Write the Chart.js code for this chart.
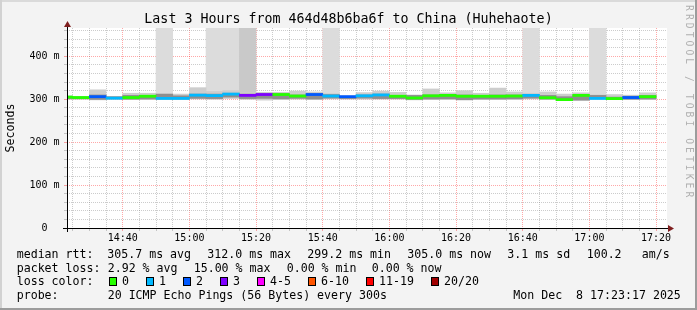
<!DOCTYPE html>
<html>
<head>
<meta charset="utf-8">
<title>Last 3 Hours from 464d48b6ba6f to China (Huhehaote)</title>
<script src="https://cdn.jsdelivr.net/npm/chart.js@4.4.1/dist/chart.umd.min.js"></script>
<style>
  html, body { margin: 0; padding: 0; background: #f3f3f3; }
  #graph { position: relative; width: 697px; height: 310px; overflow: hidden; background: #f3f3f3;
           font-family: 'DejaVu Sans Mono', monospace; color: #000; }
  #graph canvas { position: absolute; left: 0; top: 0; }
  #title { position: absolute; left: 0; top: 10.6px; width: 697px; text-align: center;
           font-size: 13.3px; line-height: 16px; white-space: pre; }
  #mark { position: absolute; left: 682px; top: 5px; width: 14px; line-height: 14px; font-size: 9.6px;
          letter-spacing: 3.1px; color: #b0b0b0; writing-mode: vertical-rl; white-space: pre; }
  .txt { position: absolute; white-space: pre; font-size: 11.6px; line-height: 14px; }
  .box { position: absolute; width: 8px; height: 9px; box-sizing: border-box; border: 1px solid #000; }
  .edge { position: absolute; }
</style>
</head>
<body>
<div id="graph">
  <canvas id="smoke" width="697" height="310"></canvas>
  <div id="title">Last 3 Hours from 464d48b6ba6f to China (Huhehaote)</div>
  <div id="mark">RRDTOOL / TOBI OETIKER</div>
  <div id="legend"></div>
  <div class="edge" style="left:0;top:0;width:697px;height:2px;background:#dadada"></div>
  <div class="edge" style="left:0;top:0;width:2px;height:310px;background:#d2d2d2"></div>
  <div class="edge" style="left:695px;top:0;width:2px;height:310px;background:#9c9c9c"></div>
  <div class="edge" style="left:0;top:308px;width:697px;height:2px;background:#9c9c9c"></div>
</div>
<script>
// 5 minute bins, start time of each bin
const BIN_TIMES = ['14:20','14:25','14:30','14:35','14:40','14:45','14:50','14:55',
  '15:00','15:05','15:10','15:15','15:20','15:25','15:30','15:35','15:40','15:45','15:50','15:55',
  '16:00','16:05','16:10','16:15','16:20','16:25','16:30','16:35','16:40','16:45','16:50','16:55',
  '17:00','17:05','17:10','17:15'];

// median rtt per bin (ms)
const MEDIAN = [305,304,306,302.5,304,307,302,302,309.5,308.5,312,309,311,311,307.5,311,307.5,306,
  308,310,307,303,308,309,307,307,307,307.5,309,303.5,299.2,309,302,301.5,304,306];
// lost pings class per bin (index into LOSS_COLORS)
const LOSS_IDX = [0,0,2,1,0,0,1,1,1,1,1,3,3,0,0,2,1,2,1,1,0,0,0,0,0,0,0,0,1,0,0,0,1,0,2,0];
// smoke (spread of the 20 pings)
const SMOKE_HI = [308,306.5,322,306,314,314,312,312,327,318,320,316,316,316,319,317,313,308,315.5,319,
  316,310,324,315,320,314,326,317,314,317,312,315,310,311,309.5,315];
const SMOKE_LO = [300,300,298.5,300,299,299,299,299,300.5,300,302,300,298,299,300,299,301,300,300,300,
  300,298.5,299,299,298,299,299,299,301,299,297,297,300,299,299,299];
const CORE_HI = [306,305,310,306,309,309,312,308,312,312,314,312,313,313,310,313,311,307,310,312,
  309,309,310,311,310,309,310,310,311,309,306,310,309,305,307,309];
const CORE_LO = [301,301,299.5,301,300,300.5,300.5,300.5,302,301.5,305,301.5,302,301,302,300.5,302.5,301.5,
  302.5,301.5,301.5,299.5,300.5,301,299,300.5,300.5,301,302.5,300.5,298,298,301,300,300,300.5];
// bins drawn with a full height loss column (1 light, 2 darker)
const LOSS_COL = [0,0,0,0,0,0,1,0,0,1,1,2,0,0,0,0,1,0,0,0,0,0,0,0,0,0,0,0,1,0,0,0,1,0,0,0];

const LOSS_LABELS = ['0','1','2','3','4-5','6-10','11-19','20/20'];
const LOSS_COLORS = ['#26ff00','#00b8ff','#0059ff','#7e00ff','#ff00ff','#ff5500','#ff0000','#a00000'];
const COL_COLORS = [null, '#dcdcdc', '#c9c9c9'];

const X_LABELS = ['14:40','15:00','15:20','15:40','16:00','16:20','16:40','17:00','17:20'];
const Y_LABELS = ['0','100 m','200 m','300 m','400 m'];
const Y_LABEL_VALUES = [0,100,200,300,400];

const START = '14:23:17', END = '17:23:17';
const Y_MAX = 466;
const BIN = 5;          // minutes per bin
const MED_HALF = 2.5;   // half thickness of the median mark, ms

function minutes(t){ const p = t.split(':').map(Number); return p[0]*60 + p[1] + (p[2] || 0)/60; }
const X_MIN = minutes(START), X_MAX = minutes(END);
const X_GRID = [];
for (let m = Math.ceil(X_MIN/BIN)*BIN; m <= X_MAX; m += BIN) X_GRID.push(m);
const Y_GRID = [];
for (let v = 0; v <= Y_MAX; v += 20) Y_GRID.push(v);

const MAJOR = 'rgba(255,0,0,0.34)';
const MINOR = 'rgba(120,120,120,0.38)';
const isMajorX = v => X_LABELS.some(l => minutes(l) === v);
const isMajorY = v => Y_LABEL_VALUES.includes(v);

const mid = BIN_TIMES.map(t => minutes(t) + BIN/2);

const datasets = [
  { label: 'median', order: 0,
    data: mid.map((x, i) => ({x, y: [MEDIAN[i] - MED_HALF, MEDIAN[i] + MED_HALF]})),
    backgroundColor: LOSS_IDX.map(i => LOSS_COLORS[i]) },
  { label: 'core', order: 1,
    data: mid.map((x, i) => ({x, y: [CORE_LO[i], CORE_HI[i]]})),
    backgroundColor: '#8e8e8e' },
  { label: 'smoke', order: 2,
    data: mid.map((x, i) => ({x, y: [SMOKE_LO[i], SMOKE_HI[i]]})),
    backgroundColor: '#cdcdcd' },
  { label: 'loss', order: 3,
    data: mid.map((x, i) => ({x, y: LOSS_COL[i] ? [SMOKE_LO[i], Y_MAX] : null})).filter(d => d.y),
    backgroundColor: mid.map((x, i) => COL_COLORS[LOSS_COL[i]]).filter(c => c) }
];

const plotBackground = {
  id: 'plotBackground',
  beforeDraw(chart){
    const {ctx, chartArea: a} = chart;
    ctx.save(); ctx.fillStyle = '#fff';
    ctx.fillRect(a.left, a.top, a.right - a.left, a.bottom - a.top);
    ctx.restore();
  }
};

const axisLines = {
  id: 'axisLines',
  afterDraw(chart){
    const {ctx, chartArea: a} = chart;
    ctx.save();
    ctx.strokeStyle = '#000'; ctx.lineWidth = 1;
    ctx.beginPath();
    ctx.moveTo(a.left - 4, a.bottom + 0.5); ctx.lineTo(a.right + 2, a.bottom + 0.5);
    ctx.moveTo(a.left + 0.5, a.bottom + 4); ctx.lineTo(a.left + 0.5, a.top - 1);
    ctx.stroke();
    ctx.fillStyle = '#7f1f1f';
    ctx.beginPath();
    ctx.moveTo(a.right + 1, a.bottom - 3); ctx.lineTo(a.right + 7, a.bottom + 0.5); ctx.lineTo(a.right + 1, a.bottom + 4);
    ctx.fill();
    ctx.beginPath();
    ctx.moveTo(a.left - 3, a.top - 1); ctx.lineTo(a.left + 0.5, a.top - 7); ctx.lineTo(a.left + 4, a.top - 1);
    ctx.fill();
    ctx.restore();
  }
};

const tickFont = {family: 'DejaVu Sans Mono', size: 10};

new Chart(document.getElementById('smoke'), {
  type: 'bar',
  data: {datasets},
  options: {
    responsive: false, animation: false, devicePixelRatio: 1,
    layout: {padding: {left: 0, top: 28, right: 30, bottom: 62}},
    plugins: {legend: {display: false}, tooltip: {enabled: false}},
    datasets: {bar: {grouped: false, barPercentage: 1, categoryPercentage: 1, borderWidth: 0, clip: 0}},
    scales: {
      x: {
        type: 'linear', min: X_MIN, max: X_MAX, offset: false,
        afterFit: s => { s.height = 20; },
        afterBuildTicks: s => { s.ticks = X_GRID.map(v => ({value: v})); },
        grid: {offset: false, lineWidth: 1, drawTicks: true, tickLength: 3,
               color: c => isMajorX(c.tick.value) ? MAJOR : MINOR,
               tickColor: c => isMajorX(c.tick.value) ? MAJOR : MINOR},
        border: {display: false, dash: [1, 1]},
        ticks: {autoSkip: false, maxRotation: 0, padding: 1, color: '#000', font: tickFont,
                callback: v => X_LABELS.find(l => minutes(l) === v) || ''}
      },
      y: {
        type: 'linear', min: 0, max: Y_MAX,
        afterFit: s => { s.width = 67; },
        afterBuildTicks: s => { s.ticks = Y_GRID.map(v => ({value: v})); },
        grid: {lineWidth: 1, drawTicks: true, tickLength: 3,
               color: c => isMajorY(c.tick.value) ? MAJOR : MINOR,
               tickColor: c => isMajorY(c.tick.value) ? MAJOR : MINOR},
        border: {display: false, dash: [1, 1]},
        title: {display: true, text: 'Seconds', color: '#000',
                font: {family: 'DejaVu Sans Mono', size: 11.6}, padding: {top: 4, bottom: 0}},
        ticks: {autoSkip: false, padding: 4.5, color: '#000', font: tickFont,
                callback: v => {
                  const i = Y_LABEL_VALUES.indexOf(v);
                  if (i < 0) return '';
                  const l = Y_LABELS[i];
                  return l.includes(' ') ? l : l + '  ';
                }}
      }
    }
  },
  plugins: [plotBackground, axisLines]
});

// legend block under the graph
const ROW_TOP = [246.8, 260.6, 274.4, 288.2];
const LEGEND_ROWS = [
  [[16.7,'median rtt:'],[107.3,'305.7 ms avg'],[207.3,'312.0 ms max'],[307.3,'299.2 ms min'],
   [407.3,'305.0 ms now'],[507.3,'3.1 ms sd'],[586.7,'100.2'],[641.7,'am/s']],
  [[16.7,'packet loss:'],[107.7,'2.92 % avg'],[193.7,'15.00 % max'],[286.7,'0.00 % min'],[371.7,'0.00 % now']],
  [[16.7,'loss color:']],
  [[16.7,'probe:'],[107.7,'20 ICMP Echo Pings (56 Bytes) every 300s'],[513.3,'Mon Dec  8 17:23:17 2025']]
];
const LOSS_BOX_X = [108.6,145.6,182.6,219.6,256.6,307.6,365.6,430.6];

const legend = document.getElementById('legend');
function addText(x, y, s){
  const d = document.createElement('div');
  d.className = 'txt'; d.style.left = x + 'px'; d.style.top = y + 'px'; d.textContent = s;
  legend.appendChild(d);
}
LEGEND_ROWS.forEach((row, r) => row.forEach(([x, s]) => addText(x, ROW_TOP[r], s)));
LOSS_LABELS.forEach((l, i) => {
  const b = document.createElement('div');
  b.className = 'box'; b.style.left = LOSS_BOX_X[i] + 'px'; b.style.top = '277.2px';
  b.style.background = LOSS_COLORS[i];
  legend.appendChild(b);
  addText(LOSS_BOX_X[i] + 13.5, ROW_TOP[2], l);
});
</script>
</body>
</html>
